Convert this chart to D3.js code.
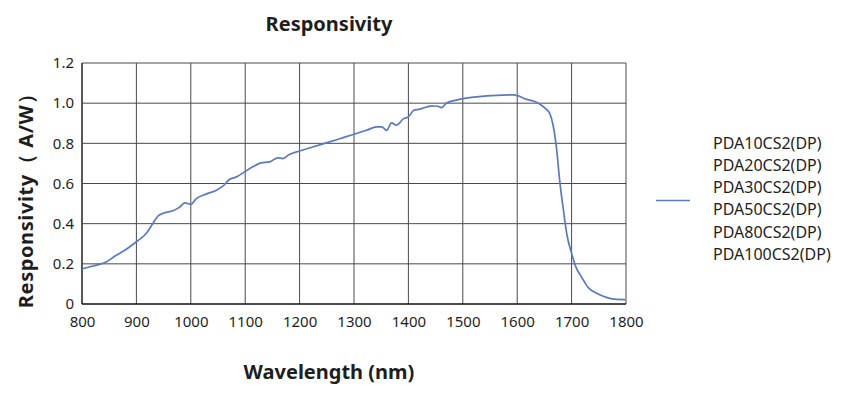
<!DOCTYPE html>
<html>
<head>
<meta charset="utf-8">
<script src="https://cdn.jsdelivr.net/npm/d3@7"></script>
<style>
  body { margin: 0; background: #fff; font-family: "Noto Sans", "Open Sans", sans-serif; }
</style>
</head>
<body>
<div id="chart"></div>
<script>
const wavelength = [800, 820, 845, 860, 880, 900, 918, 930, 940, 952, 967, 979, 989, 1000, 1010, 1028, 1047, 1059, 1071, 1084, 1099, 1114, 1129, 1145, 1160, 1169, 1181, 1200, 1224, 1255, 1274, 1300, 1323, 1342, 1351, 1360, 1369, 1378, 1391, 1400, 1410, 1421, 1440, 1452, 1461, 1470, 1486, 1501, 1525, 1562, 1593, 1602, 1617, 1630, 1642, 1654, 1660, 1666, 1672, 1678, 1685, 1691, 1700, 1709, 1718, 1730, 1746, 1764, 1783, 1799];
const responsivity = [0.175, 0.189, 0.21, 0.238, 0.27, 0.31, 0.351, 0.40, 0.439, 0.454, 0.464, 0.481, 0.504, 0.496, 0.525, 0.547, 0.567, 0.587, 0.62, 0.633, 0.658, 0.683, 0.703, 0.708, 0.728, 0.724, 0.744, 0.762, 0.782, 0.807, 0.823, 0.845, 0.865, 0.882, 0.882, 0.865, 0.902, 0.89, 0.923, 0.932, 0.965, 0.970, 0.985, 0.986, 0.978, 1.001, 1.014, 1.023, 1.031, 1.039, 1.041, 1.036, 1.019, 1.011, 0.995, 0.968, 0.948, 0.89, 0.782, 0.617, 0.467, 0.351, 0.252, 0.177, 0.136, 0.083, 0.053, 0.033, 0.023, 0.022];
const legendLabels = ["PDA10CS2(DP)", "PDA20CS2(DP)", "PDA30CS2(DP)", "PDA50CS2(DP)", "PDA80CS2(DP)", "PDA100CS2(DP)"];
const xTicks = [800, 900, 1000, 1100, 1200, 1300, 1400, 1500, 1600, 1700, 1800];
const yTicks = [0, 0.2, 0.4, 0.6, 0.8, 1.0, 1.2];

const W = 867, H = 398;
const plot = { left: 82, right: 626, top: 63, bottom: 304 };
const lineColor = "#5b79c0";
const gridColor = "#4a4a4a";
const textColor = "#1e1e1e";

const svg = d3.select("#chart").append("svg")
  .attr("width", W)
  .attr("height", H);

const x = d3.scaleLinear().domain([800, 1800]).range([plot.left, plot.right]);
const y = d3.scaleLinear().domain([0, 1.2]).range([plot.bottom, plot.top]);

// grid
svg.append("g")
  .selectAll("line")
  .data(xTicks)
  .enter().append("line")
  .attr("x1", d => x(d)).attr("x2", d => x(d))
  .attr("y1", plot.top).attr("y2", plot.bottom)
  .attr("stroke", d => d === 800 ? "#111" : gridColor)
  .attr("stroke-width", d => d === 800 ? 1.4 : 1);

svg.append("g")
  .selectAll("line")
  .data(yTicks)
  .enter().append("line")
  .attr("x1", plot.left).attr("x2", plot.right)
  .attr("y1", d => y(d)).attr("y2", d => y(d))
  .attr("stroke", d => d === 0 ? "#111" : gridColor)
  .attr("stroke-width", d => d === 0 ? 1.4 : 1);

// axes (labels only)
const xAxis = svg.append("g")
  .attr("transform", `translate(0,${plot.bottom})`)
  .call(d3.axisBottom(x).tickValues(xTicks).tickSize(0).tickPadding(12).tickFormat(d3.format("d")));
const yAxis = svg.append("g")
  .attr("transform", `translate(${plot.left},0)`)
  .call(d3.axisLeft(y).tickValues(yTicks).tickSize(0).tickPadding(8)
    .tickFormat(d => d === 0 ? "0" : d3.format(".1f")(d)));

[xAxis, yAxis].forEach(a => {
  a.select(".domain").remove();
  a.selectAll("text")
    .attr("font-family", "'Noto Sans', 'Open Sans', sans-serif")
    .attr("font-size", 15)
    .attr("fill", textColor);
});

// curve
const line = d3.line()
  .x((d, i) => x(wavelength[i]))
  .y(d => y(d))
  .curve(d3.curveMonotoneX);

svg.append("path")
  .attr("d", line(responsivity))
  .attr("fill", "none")
  .attr("stroke", lineColor)
  .attr("stroke-width", 1.7);

// titles
svg.append("text")
  .attr("x", 329).attr("y", 31)
  .attr("text-anchor", "middle")
  .attr("font-size", 20).attr("font-weight", "bold")
  .attr("fill", textColor)
  .text("Responsivity");

svg.append("text")
  .attr("x", 329).attr("y", 379)
  .attr("text-anchor", "middle")
  .attr("font-size", 20).attr("font-weight", "bold")
  .attr("fill", textColor)
  .text("Wavelength (nm)");

svg.append("text")
  .attr("transform", "translate(33,196) rotate(-90)")
  .attr("text-anchor", "middle")
  .attr("font-size", 20).attr("font-weight", "bold")
  .attr("letter-spacing", 0.6)
  .attr("fill", textColor)
  .text("Responsivity（ A/W）");

// legend
svg.append("line")
  .attr("x1", 656).attr("x2", 690)
  .attr("y1", 200.5).attr("y2", 200.5)
  .attr("stroke", lineColor).attr("stroke-width", 1.7);

svg.append("g")
  .selectAll("text")
  .data(legendLabels)
  .enter().append("text")
  .attr("x", 713)
  .attr("y", (d, i) => 148.5 + i * 22.3)
  .attr("font-size", 16)
  .attr("fill", textColor)
  .text(d => d);
</script>
</body>
</html>
